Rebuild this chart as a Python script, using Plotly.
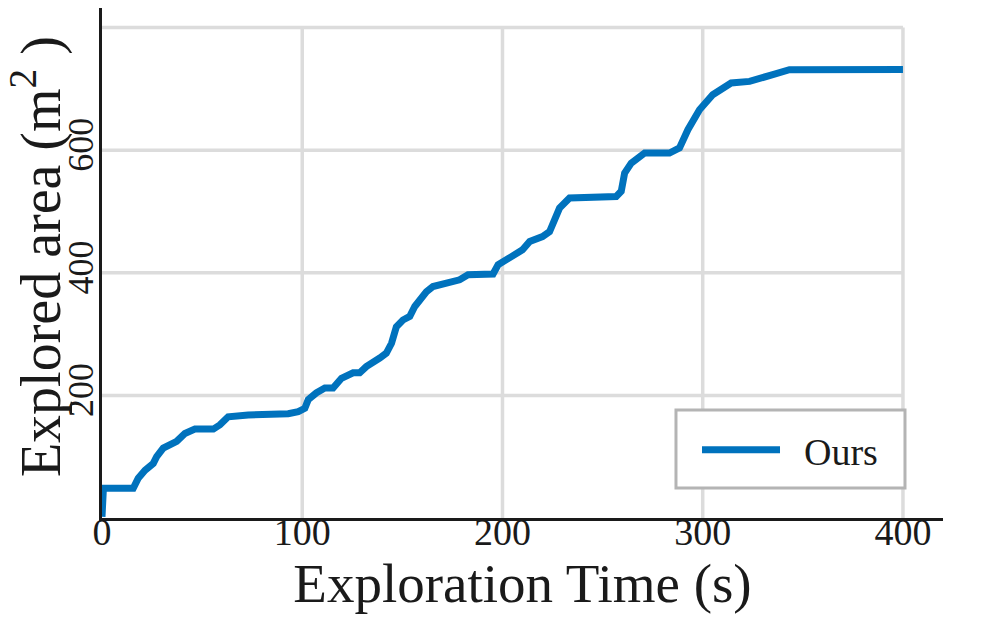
import plotly.graph_objects as go

# exploration curve
time_s = [0, 0.7, 15.6, 18.1, 21.5, 25.6, 27.3, 30.6, 37.3, 41.4, 46.4, 55.6, 58.9, 63, 73, 93, 98,
          101.3, 103, 107, 111.3, 115.4, 119.6, 125.4, 128.7, 132, 138.7, 142, 144.6, 147, 150.3,
          153.7, 156.2, 162, 165.3, 172, 178.6, 182.8, 195.3, 197.8, 203.6, 210, 213.6, 220, 223.5,
          226, 228.5, 233.5, 256.8, 259.3, 261, 264.3, 271, 283.4, 288.4, 292.6, 298.4, 305, 314.2,
          323.4, 328.3, 335, 343.3, 370, 400]
area_m2 = [2, 48.5, 48.5, 65, 78, 89, 100, 114, 125, 138, 145, 145, 152, 165, 168, 170, 173.5,
           179, 193, 204, 212, 212, 228, 237, 237, 247, 261, 269, 285, 312, 323,
           329, 345, 369, 377.6, 383, 388.6, 396.7, 398, 413, 424, 437.5, 451, 459, 467,
           486.5, 505.6, 522, 524.6, 533, 562.8, 579, 595.4, 595.4, 603.6, 633.5, 666, 690.6, 709.7,
           712.3, 717.8, 723.3, 731.4, 731.6, 731.8]

x_ticks = [0, 100, 200, 300, 400]
y_ticks = [200, 400, 600, 800]

font_name = "Liberation Serif"
grid_col = "#dcdcdc"

fig = go.Figure()

fig.add_trace(go.Scatter(x=time_s, y=area_m2, mode="lines", name="\u00a0\u00a0Ours",
                         line=dict(color="#0072BD", width=7)))

# grid only spans the 0..400 / 0..800 box, axes run further
for xv in x_ticks[1:]:
    fig.add_shape(type="line", x0=xv, x1=xv, y0=0, y1=max(y_ticks), xref="x", yref="y",
                  line=dict(color=grid_col, width=3.5), layer="below")
for yv in y_ticks:
    fig.add_shape(type="line", x0=0, x1=max(x_ticks), y0=yv, y1=yv, xref="x", yref="y",
                  line=dict(color=grid_col, width=3.5), layer="below")

# legend frame (roomier than plotly's own box)
fig.add_shape(type="rect", xref="paper", yref="paper", x0=0.6825, x1=0.9548, y0=0.0588, y1=0.2118,
              fillcolor="white", line=dict(color="#b4b4b4", width=3), layer="above")

# y title as an annotation so it sits clear of the rotated tick labels
fig.add_annotation(text="Explored area (m<sup>2</sup> )", xref="paper", yref="paper",
                   x=-0.077, y=0.512, xanchor="center", yanchor="middle", textangle=-90,
                   showarrow=False, font=dict(size=56, family=font_name, color="#1a1a1a"))

# page body keeps its 8px margin, so the figure is a bit smaller than the window
fig.update_layout(
    width=989, height=609,
    margin=dict(l=94, r=54, t=0, b=99),
    plot_bgcolor="white", paper_bgcolor="white",
    font=dict(family=font_name, color="#1a1a1a", size=36),
    showlegend=True,
    legend=dict(x=0.7075, y=0.133, xanchor="left", yanchor="middle",
                bgcolor="rgba(0,0,0,0)", borderwidth=0,
                itemwidth=78, font=dict(size=38, family=font_name)),
)
fig.update_xaxes(range=[0, 420], showgrid=False, zeroline=False,
                 showline=True, linecolor="#1a1a1a", linewidth=3,
                 tickvals=x_ticks, ticks="", ticklabelstandoff=-22, tickfont=dict(size=38),
                 title=dict(text="Exploration Time (s)", font=dict(size=55), standoff=0))
fig.update_yaxes(range=[0, 832], showgrid=False, zeroline=False,
                 showline=True, linecolor="#1a1a1a", linewidth=3,
                 tickvals=y_ticks, ticks="", tickangle=-90, ticklabelstandoff=-8,
                 tickfont=dict(size=36))

fig.write_html("out.html")
